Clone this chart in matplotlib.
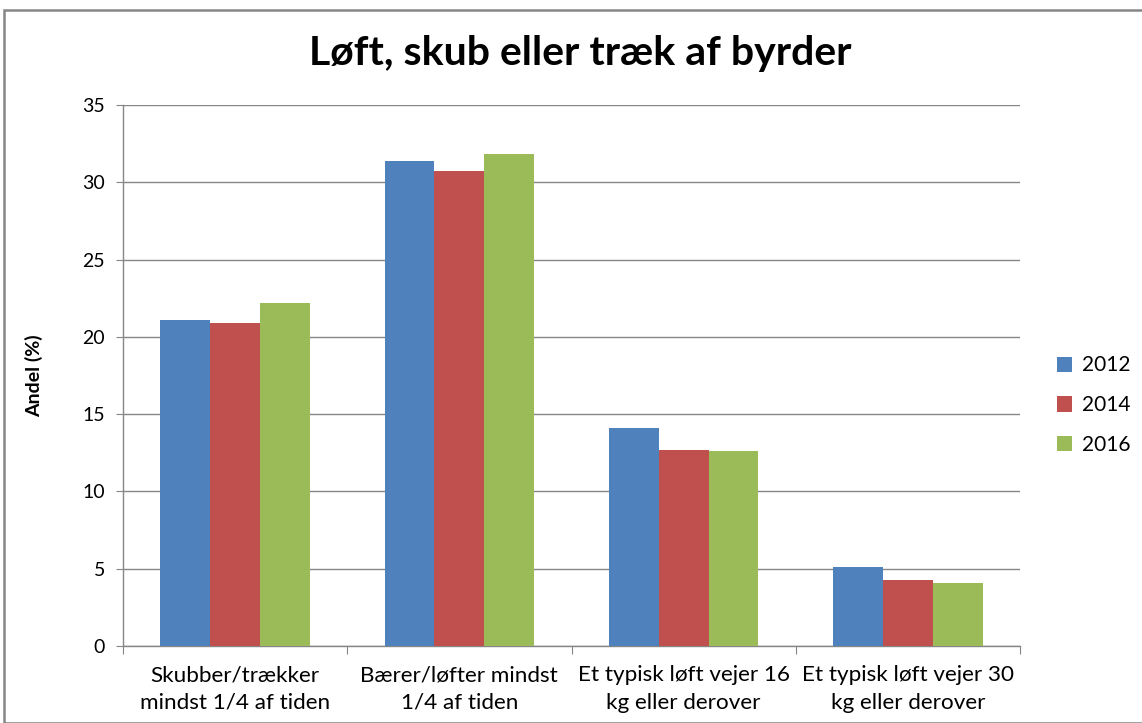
import matplotlib
matplotlib.use("Agg")
import matplotlib.pyplot as plt
import numpy as np
from matplotlib.patches import Rectangle

plt.rcParams['font.family'] = ['Lato', 'DejaVu Sans']

categories = ["Skubber/trækker\nmindst 1/4 af tiden",
              "Bærer/løfter mindst\n1/4 af tiden",
              "Et typisk løft vejer 16\nkg eller derover",
              "Et typisk løft vejer 30\nkg eller derover"]
years = ["2012", "2014", "2016"]
v2012 = [21.1, 31.4, 14.1, 5.1]
v2014 = [20.9, 30.7, 12.7, 4.3]
v2016 = [22.2, 31.8, 12.6, 4.1]
yticks = [0, 5, 10, 15, 20, 25, 30, 35]
colors = ["#4F81BD", "#C0504D", "#9BBB59"]
title = "Løft, skub eller træk af byrder"
ylabel = "Andel (%)"

W, H = 1142, 723
fig = plt.figure(figsize=(W / 100, H / 100), dpi=100)
fig.patches.append(Rectangle((4 / W, 0), 1.2, 1 - 10 / H, transform=fig.transFigure,
                             fill=False, edgecolor="#868686", linewidth=1.8))
ax = fig.add_axes([123 / W, 1 - 646 / H, (1020 - 123) / W, (646 - 105) / H])

x = np.arange(len(categories))
bw = 0.222
series = [v2012, v2014, v2016]
for i, (vals, c, lab) in enumerate(zip(series, colors, years)):
    ax.bar(x + (i - 1) * bw, vals, width=bw, color=c, label=lab, zorder=3,
           edgecolor='none')

ax.set_xlim(-0.5, 3.5)
ax.set_ylim(0, 35)
ax.set_yticks(yticks)
ax.yaxis.grid(True, color="#868686", linewidth=1.0, zorder=0)
for s in ["top", "right"]:
    ax.spines[s].set_visible(False)
for s in ["left", "bottom"]:
    ax.spines[s].set_color("#868686")
    ax.spines[s].set_linewidth(1.0)

ax.set_xticks(np.arange(-0.5, 4, 1.0))
ax.set_xticklabels([])
ax.set_xticks(x, minor=True)
ax.set_xticklabels(categories, minor=True, fontsize=16.2, color="#000000", linespacing=1.45)
ax.tick_params(axis="x", which="major", length=6, color="#868686", direction="out")
ax.tick_params(axis="x", which="minor", length=0, pad=14)
ax.tick_params(axis="y", length=5, color="#868686", direction="out", labelsize=14, pad=8)

ax.set_ylabel(ylabel, fontsize=14, fontweight="bold")
ax.yaxis.set_label_coords(-80 / 897, 0.5)
fig.text(580 / W, 1 - 53 / H, title, fontsize=29.5, fontweight="bold", ha="center", va="center")

leg = ax.legend(loc="center left", bbox_to_anchor=(1.02, 0.445), frameon=False, fontsize=15,
                handlelength=0.75, handleheight=0.75, handletextpad=0.45, labelspacing=0.95)

fig.savefig("out.png", dpi=100)
